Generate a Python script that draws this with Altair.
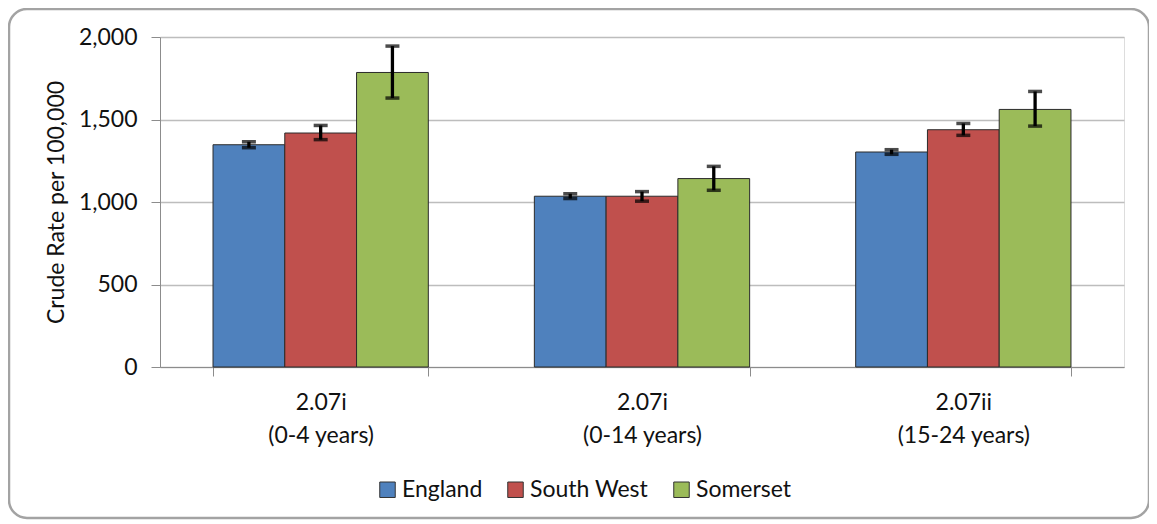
import altair as alt
import pandas as pd

categories = ["2.07i|(0-4 years)", "2.07i|(0-14 years)", "2.07ii|(15-24 years)"]
series = ["England", "South West", "Somerset"]
colors = ["#4F81BD", "#C0504D", "#9BBB59"]

england = [1347, 1035, 1303]
england_lo = [1329, 1021, 1289]
england_hi = [1365, 1050, 1317]

south_west = [1418, 1035, 1438]
south_west_lo = [1378, 1005, 1404]
south_west_hi = [1464, 1063, 1476]

somerset = [1785, 1142, 1561]
somerset_lo = [1630, 1071, 1460]
somerset_hi = [1945, 1216, 1670]

y_ticks = [0, 500, 1000, 1500, 2000]

rows = []
for name, vals, los, his in [
    ("England", england, england_lo, england_hi),
    ("South West", south_west, south_west_lo, south_west_hi),
    ("Somerset", somerset, somerset_lo, somerset_hi),
]:
    for c, v, lo, hi in zip(categories, vals, los, his):
        rows.append({"category": c, "series": name, "value": v, "lo": lo, "hi": hi})
df = pd.DataFrame(rows)

FONT = "Lato"
FS = 23
GRAY = "#8C8C8C"
TXT = "#111111"

x_enc = alt.X(
    "category:N",
    sort=categories,
    scale=alt.Scale(paddingInner=0.33, paddingOuter=0.165),
    axis=alt.Axis(
        title=None,
        labelAngle=0,
        labelExpr="split(datum.label, '|')",
        labelFontSize=FS,
        labelFont=FONT,
        labelColor=TXT,
        labelLineHeight=33,
        labelPadding=15,
        tickBand="extent",
        tickSize=9,
        tickColor=GRAY,
        domainColor=GRAY,
        grid=False,
    ),
)
xoff_enc = alt.XOffset("series:N", sort=series, scale=alt.Scale(paddingInner=0, paddingOuter=0))

base = alt.Chart(df).encode(x=x_enc, xOffset=xoff_enc)

bars = base.mark_bar(stroke="#2b2b2b", strokeWidth=1).encode(
    y=alt.Y(
        "value:Q",
        scale=alt.Scale(domain=[0, 2000]),
        axis=alt.Axis(
            title="Crude Rate per 100,000",
            values=y_ticks,
            format=",d",
            labelFontSize=FS,
            labelFont=FONT,
            labelColor=TXT,
            titleFontSize=FS,
            titleFont=FONT,
            titleFontWeight="normal",
            titleColor=TXT,
            titlePadding=10,
            labelPadding=14,
            tickSize=9,
            tickColor=GRAY,
            domainColor=GRAY,
            gridColor="#BDBDBD",
            gridWidth=1.3,
        ),
    ),
    color=alt.Color(
        "series:N",
        sort=series,
        scale=alt.Scale(domain=series, range=colors),
        legend=alt.Legend(
            orient="none",
            legendX=216,
            legendY=441,
            direction="horizontal",
            title=None,
            symbolType="square",
            symbolSize=240,
            symbolStrokeColor="#333333",
            symbolStrokeWidth=1,
            labelFontSize=FS,
            labelFont=FONT,
            labelColor=TXT,
            labelOffset=3,
            columnPadding=21,
            padding=0,
        ),
    ),
)

rules = base.mark_rule(color="black", strokeWidth=3.3).encode(y="lo:Q", y2="hi:Q")
cap_lo = base.mark_tick(color="black", thickness=3.5, size=14, orient="horizontal").encode(y="lo:Q")
cap_hi = base.mark_tick(color="black", thickness=3.5, size=14, orient="horizontal").encode(y="hi:Q")

frame = alt.Chart(pd.DataFrame({"a": [0]})).mark_rect(
    fill="transparent", stroke="#A3A3A3", strokeWidth=2.5, cornerRadius=18
).encode(
    x=alt.value(-151), x2=alt.value(989), y=alt.value(-28), y2=alt.value(481)
)

chart = (
    alt.layer(frame, bars, rules, cap_lo, cap_hi)
    .properties(
        width=964,
        height=330,
        autosize=alt.AutoSizeParams(type="none"),
        padding={"left": 152, "top": 29, "right": 25, "bottom": 153},
    )
    .configure_view(strokeWidth=0)
    .configure(font=FONT)
)

chart.save("out.html", embed_options={"renderer": "svg", "actions": False})
